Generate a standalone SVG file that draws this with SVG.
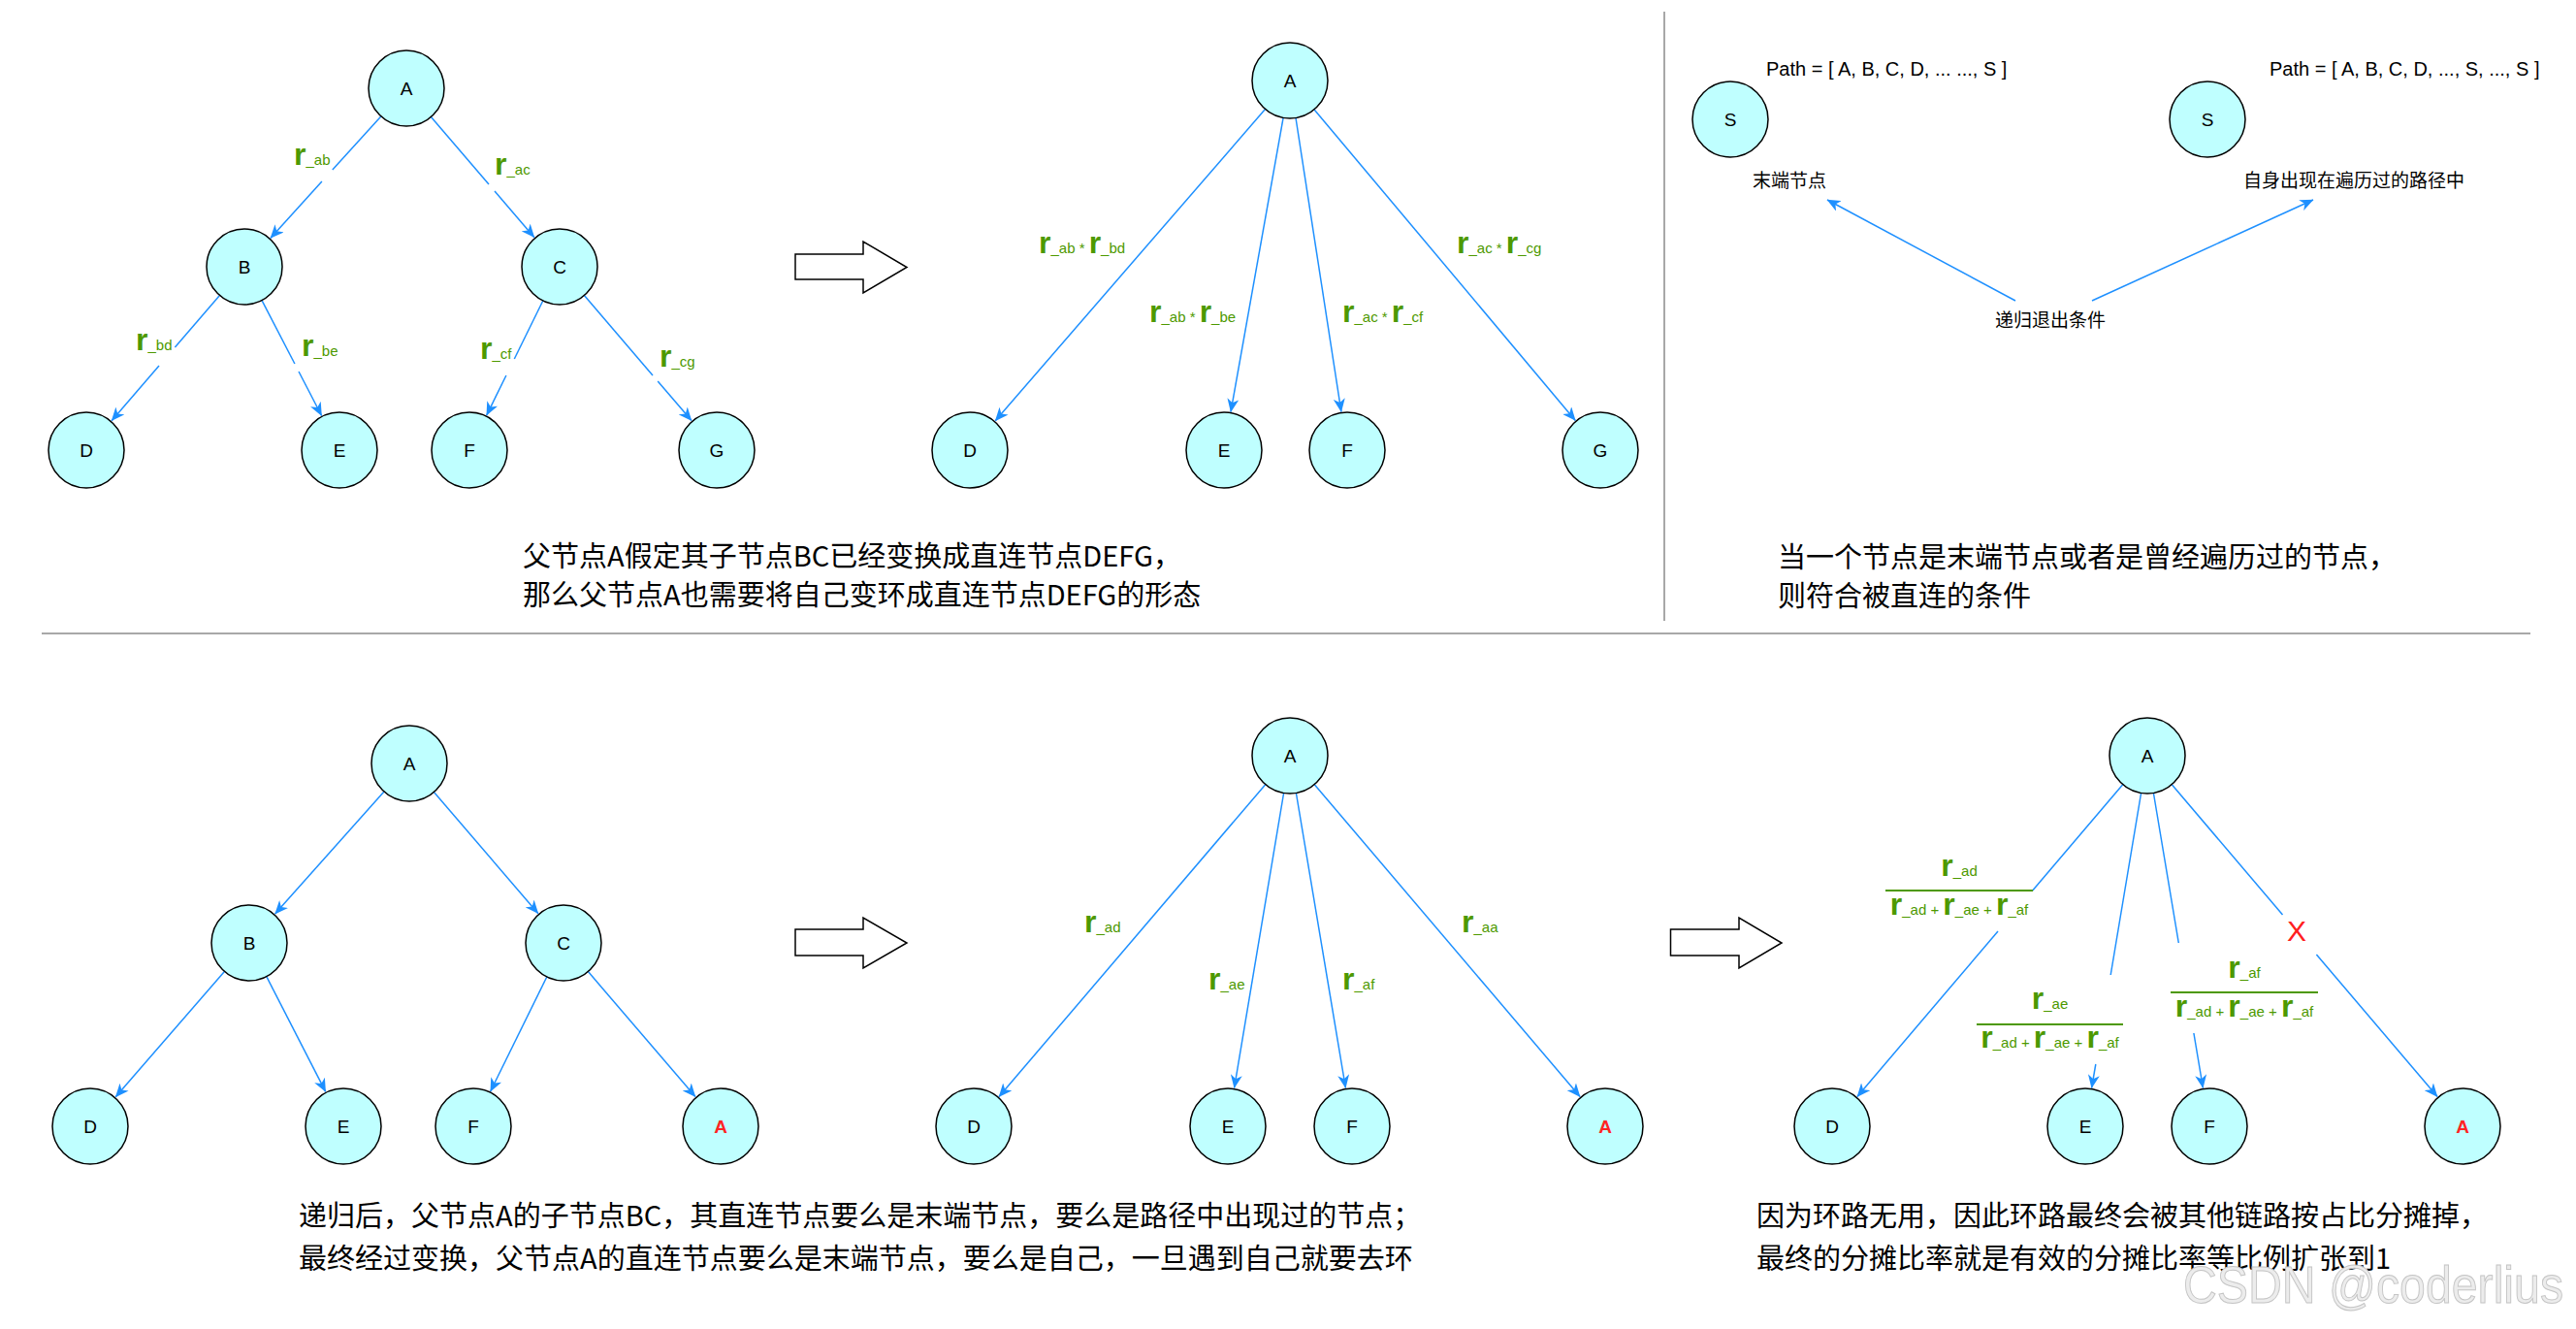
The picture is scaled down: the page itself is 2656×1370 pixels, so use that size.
<svg xmlns="http://www.w3.org/2000/svg" width="2656" height="1370" viewBox="0 0 2656 1370">
<style>
.nd{fill:#BFFFFF;stroke:#000;stroke-width:1.5}
.nl{font-family:"Liberation Sans",Arial,sans-serif;font-size:19px;text-anchor:middle;fill:#000}
.red{fill:#FF2424;font-weight:bold}
.e{stroke:#1E90FF;stroke-width:1.5;fill:none}
.a{marker-end:url(#ah)}
.lbl{font-family:"Liberation Sans",Arial,sans-serif;fill:#4D9900;font-size:15px}
.r{font-size:32px;font-weight:bold}
.mid{text-anchor:middle}
.cjk{font-family:"Noto Sans CJK SC","Noto Sans CJK JP",sans-serif;fill:#000}
.big{font-size:29px}
.sm{font-size:19px}
.path{font-family:"Liberation Sans",Arial,sans-serif;font-size:20px;fill:#000}
.blk{fill:#fff;stroke:#000;stroke-width:1.5}
.dv{stroke:#A8A8A8;stroke-width:2}
.bar{stroke:#4D9900;stroke-width:2}
</style>
<defs>
<marker id="ah" markerUnits="userSpaceOnUse" markerWidth="14" markerHeight="12" viewBox="0 0 14 12" refX="13.5" refY="6" orient="auto"><path d="M0,0 L14,6 L0,12 L4,6 z" fill="#1E90FF"/></marker>
</defs>
<rect width="2656" height="1370" fill="#fff"/>

<g id="dividers">
<line class="dv" x1="1716" y1="12" x2="1716" y2="640"/>
<line class="dv" x1="43" y1="653" x2="2609" y2="653"/>
</g>

<g id="connectors">
<!-- section 1 -->
<line class="e" x1="392.8" y1="119.9" x2="342.8" y2="175"/><line class="e a" x1="331.9" y1="187" x2="278.9" y2="245.4"/>
<line class="e" x1="444.4" y1="120.6" x2="504" y2="190"/><line class="e a" x1="510" y1="197" x2="550.9" y2="244.7"/>
<line class="e" x1="226.5" y1="304.5" x2="180.4" y2="358"/><line class="e a" x1="164" y1="377" x2="115.1" y2="433.7"/>
<line class="e" x1="270" y1="309.6" x2="303.9" y2="375"/><line class="e a" x1="308" y1="383" x2="331.6" y2="428.5"/>
<line class="e" x1="559.8" y1="310" x2="530.3" y2="370"/><line class="e a" x1="521.9" y1="387" x2="501.7" y2="428.1"/>
<line class="e" x1="602.4" y1="304.6" x2="673" y2="387"/><line class="e a" x1="678.2" y1="393" x2="713" y2="433.6"/>
<!-- section 2 -->
<line class="e a" x1="1304.5" y1="112.5" x2="1026.2" y2="433.8"/>
<line class="e a" x1="1323.1" y1="121.4" x2="1269" y2="424.6"/>
<line class="e a" x1="1336" y1="121.5" x2="1382.9" y2="424.5"/>
<line class="e a" x1="1355.1" y1="112.9" x2="1624.3" y2="433.4"/>
<!-- section 3 -->
<line class="e a" x1="2078" y1="310" x2="1884" y2="206"/>
<line class="e a" x1="2157" y1="310" x2="2385" y2="206"/>
<!-- section 4 -->
<line class="e a" x1="396" y1="816.1" x2="283.6" y2="942.1"/>
<line class="e a" x1="447.4" y1="816.6" x2="554.9" y2="941.7"/>
<line class="e a" x1="231.4" y1="1001.5" x2="119.2" y2="1130.8"/>
<line class="e a" x1="274.8" y1="1006.7" x2="335.7" y2="1125.4"/>
<line class="e a" x1="563.8" y1="1007" x2="505.7" y2="1125.1"/>
<line class="e a" x1="606.4" y1="1001.6" x2="717" y2="1130.6"/>
<!-- section 5 -->
<line class="e a" x1="1304.7" y1="808.7" x2="1030" y2="1130.6"/>
<line class="e a" x1="1323.6" y1="817.5" x2="1272.6" y2="1121.5"/>
<line class="e a" x1="1336.4" y1="817.5" x2="1387.4" y2="1121.5"/>
<line class="e a" x1="1355.3" y1="808.7" x2="1629.1" y2="1130.5"/>
<!-- section 6 -->
<line class="e" x1="2188.7" y1="808.7" x2="2095.7" y2="918"/><line class="e a" x1="2060" y1="960" x2="1914.9" y2="1130.5"/>
<line class="e" x1="2207.6" y1="817.5" x2="2176.2" y2="1005"/><line class="e a" x1="2160.8" y1="1097" x2="2156.6" y2="1121.5"/>
<line class="e" x1="2220.4" y1="817.5" x2="2246.3" y2="972"/><line class="e a" x1="2261.9" y1="1065" x2="2271.4" y2="1121.5"/>
<line class="e" x1="2239.3" y1="808.7" x2="2353.5" y2="943"/><line class="e a" x1="2388.4" y1="984" x2="2513.1" y2="1130.5"/>
</g>

<g id="edge-labels">
<text class="lbl" x="303" y="170"><tspan class="r">r</tspan>_ab</text>
<text class="lbl" x="510" y="180"><tspan class="r">r</tspan>_ac</text>
<text class="lbl" x="140" y="361"><tspan class="r">r</tspan>_bd</text>
<text class="lbl" x="311" y="367"><tspan class="r">r</tspan>_be</text>
<text class="lbl" x="495" y="370"><tspan class="r">r</tspan>_cf</text>
<text class="lbl" x="680" y="378"><tspan class="r">r</tspan>_cg</text>

<text class="lbl" x="1071" y="261"><tspan class="r">r</tspan>_ab * <tspan class="r">r</tspan>_bd</text>
<text class="lbl" x="1185" y="332"><tspan class="r">r</tspan>_ab * <tspan class="r">r</tspan>_be</text>
<text class="lbl" x="1384" y="332"><tspan class="r">r</tspan>_ac * <tspan class="r">r</tspan>_cf</text>
<text class="lbl" x="1502" y="261"><tspan class="r">r</tspan>_ac * <tspan class="r">r</tspan>_cg</text>

<text class="lbl" x="1118" y="961"><tspan class="r">r</tspan>_ad</text>
<text class="lbl" x="1246" y="1020"><tspan class="r">r</tspan>_ae</text>
<text class="lbl" x="1384" y="1020"><tspan class="r">r</tspan>_af</text>
<text class="lbl" x="1507" y="961"><tspan class="r">r</tspan>_aa</text>

<text class="lbl mid" x="2020" y="903"><tspan class="r">r</tspan>_ad</text>
<line class="bar" x1="1944" y1="918" x2="2096" y2="918"/>
<text class="lbl mid" x="2020" y="943"><tspan class="r">r</tspan>_ad + <tspan class="r">r</tspan>_ae + <tspan class="r">r</tspan>_af</text>

<text class="lbl mid" x="2113.5" y="1040"><tspan class="r">r</tspan>_ae</text>
<line class="bar" x1="2038" y1="1056" x2="2189" y2="1056"/>
<text class="lbl mid" x="2113.5" y="1080"><tspan class="r">r</tspan>_ad + <tspan class="r">r</tspan>_ae + <tspan class="r">r</tspan>_af</text>

<text class="lbl mid" x="2314" y="1008"><tspan class="r">r</tspan>_af</text>
<line class="bar" x1="2238" y1="1023" x2="2390" y2="1023"/>
<text class="lbl mid" x="2314" y="1048"><tspan class="r">r</tspan>_ad + <tspan class="r">r</tspan>_ae + <tspan class="r">r</tspan>_af</text>

<text x="2368" y="970" font-family="Liberation Sans, Arial, sans-serif" font-size="30" fill="#FF2020" text-anchor="middle">X</text>
</g>

<g id="block-arrows">
<polygon class="blk" points="820,262 890,262 890,249 935,275.5 890,302 890,288 820,288"/>
<polygon class="blk" points="820,958 890,958 890,946 935,972 890,998 890,985 820,985"/>
<polygon class="blk" points="1722.5,958 1793,958 1793,946 1837,972 1793,998 1793,985 1722.5,985"/>
</g>

<!-- section 1 nodes -->
<g id="s1-A"><circle class="nd" cx="419" cy="91" r="39"/><text class="nl" x="419" y="98">A</text></g>
<g id="s1-B"><circle class="nd" cx="252" cy="275" r="39"/><text class="nl" x="252" y="282">B</text></g>
<g id="s1-C"><circle class="nd" cx="577" cy="275" r="39"/><text class="nl" x="577" y="282">C</text></g>
<g id="s1-D"><circle class="nd" cx="89" cy="464" r="39"/><text class="nl" x="89" y="471">D</text></g>
<g id="s1-E"><circle class="nd" cx="350" cy="464" r="39"/><text class="nl" x="350" y="471">E</text></g>
<g id="s1-F"><circle class="nd" cx="484" cy="464" r="39"/><text class="nl" x="484" y="471">F</text></g>
<g id="s1-G"><circle class="nd" cx="739" cy="464" r="39"/><text class="nl" x="739" y="471">G</text></g>

<!-- section 2 nodes -->
<g id="s2-A"><circle class="nd" cx="1330" cy="83" r="39"/><text class="nl" x="1330" y="90">A</text></g>
<g id="s2-D"><circle class="nd" cx="1000" cy="464" r="39"/><text class="nl" x="1000" y="471">D</text></g>
<g id="s2-E"><circle class="nd" cx="1262" cy="464" r="39"/><text class="nl" x="1262" y="471">E</text></g>
<g id="s2-F"><circle class="nd" cx="1389" cy="464" r="39"/><text class="nl" x="1389" y="471">F</text></g>
<g id="s2-G"><circle class="nd" cx="1650" cy="464" r="39"/><text class="nl" x="1650" y="471">G</text></g>

<!-- section 3 -->
<g id="s3-S1"><circle class="nd" cx="1784" cy="123" r="39"/><text class="nl" x="1784" y="130">S</text></g>
<g id="s3-S2"><circle class="nd" cx="2276" cy="123" r="39"/><text class="nl" x="2276" y="130">S</text></g>
<g id="s3-texts">
<text class="path" x="1821" y="78">Path = [ A, B, C, D, ... ..., S ]</text>
<text class="path" x="2340" y="78">Path = [ A, B, C, D, ..., S, ..., S ]</text>
<text class="cjk sm" x="1807" y="193">末端节点</text>
<text class="cjk sm" x="2313" y="193">自身出现在遍历过的路径中</text>
<text class="cjk sm" x="2057" y="337">递归退出条件</text>
</g>

<!-- section 4 nodes -->
<g id="s4-A"><circle class="nd" cx="422" cy="787" r="39"/><text class="nl" x="422" y="794">A</text></g>
<g id="s4-B"><circle class="nd" cx="257" cy="972" r="39"/><text class="nl" x="257" y="979">B</text></g>
<g id="s4-C"><circle class="nd" cx="581" cy="972" r="39"/><text class="nl" x="581" y="979">C</text></g>
<g id="s4-D"><circle class="nd" cx="93" cy="1161" r="39"/><text class="nl" x="93" y="1168">D</text></g>
<g id="s4-E"><circle class="nd" cx="354" cy="1161" r="39"/><text class="nl" x="354" y="1168">E</text></g>
<g id="s4-F"><circle class="nd" cx="488" cy="1161" r="39"/><text class="nl" x="488" y="1168">F</text></g>
<g id="s4-A2"><circle class="nd" cx="743" cy="1161" r="39"/><text class="nl red" x="743" y="1168">A</text></g>

<!-- section 5 nodes -->
<g id="s5-A"><circle class="nd" cx="1330" cy="779" r="39"/><text class="nl" x="1330" y="786">A</text></g>
<g id="s5-D"><circle class="nd" cx="1004" cy="1161" r="39"/><text class="nl" x="1004" y="1168">D</text></g>
<g id="s5-E"><circle class="nd" cx="1266" cy="1161" r="39"/><text class="nl" x="1266" y="1168">E</text></g>
<g id="s5-F"><circle class="nd" cx="1394" cy="1161" r="39"/><text class="nl" x="1394" y="1168">F</text></g>
<g id="s5-A2"><circle class="nd" cx="1655" cy="1161" r="39"/><text class="nl red" x="1655" y="1168">A</text></g>

<!-- section 6 nodes -->
<g id="s6-A"><circle class="nd" cx="2214" cy="779" r="39"/><text class="nl" x="2214" y="786">A</text></g>
<g id="s6-D"><circle class="nd" cx="1889" cy="1161" r="39"/><text class="nl" x="1889" y="1168">D</text></g>
<g id="s6-E"><circle class="nd" cx="2150" cy="1161" r="39"/><text class="nl" x="2150" y="1168">E</text></g>
<g id="s6-F"><circle class="nd" cx="2278" cy="1161" r="39"/><text class="nl" x="2278" y="1168">F</text></g>
<g id="s6-A2"><circle class="nd" cx="2539" cy="1161" r="39"/><text class="nl red" x="2539" y="1168">A</text></g>

<g id="captions">
<text class="cjk big" x="539" y="584">父节点A假定其子节点BC已经变换成直连节点DEFG，</text>
<text class="cjk big" x="539" y="624">那么父节点A也需要将自己变环成直连节点DEFG的形态</text>
<text class="cjk big" x="1833" y="585">当一个节点是末端节点或者是曾经遍历过的节点，</text>
<text class="cjk big" x="1833" y="625">则符合被直连的条件</text>
<text class="cjk big" x="308" y="1264">递归后，父节点A的子节点BC，其直连节点要么是末端节点，要么是路径中出现过的节点；</text>
<text class="cjk big" x="308" y="1308">最终经过变换，父节点A的直连节点要么是末端节点，要么是自己，一旦遇到自己就要去环</text>
<text class="cjk big" x="1811" y="1264">因为环路无用，因此环路最终会被其他链路按占比分摊掉，</text>
<text class="cjk big" x="1811" y="1308">最终的分摊比率就是有效的分摊比率等比例扩张到1</text>
</g>

<text id="watermark" x="2251" y="1343" font-family="Liberation Sans, Arial, sans-serif" font-size="54" textLength="392" lengthAdjust="spacingAndGlyphs" fill="#ECECEC" stroke="#C4C4C4" stroke-width="1">CSDN @coderlius</text>
</svg>
